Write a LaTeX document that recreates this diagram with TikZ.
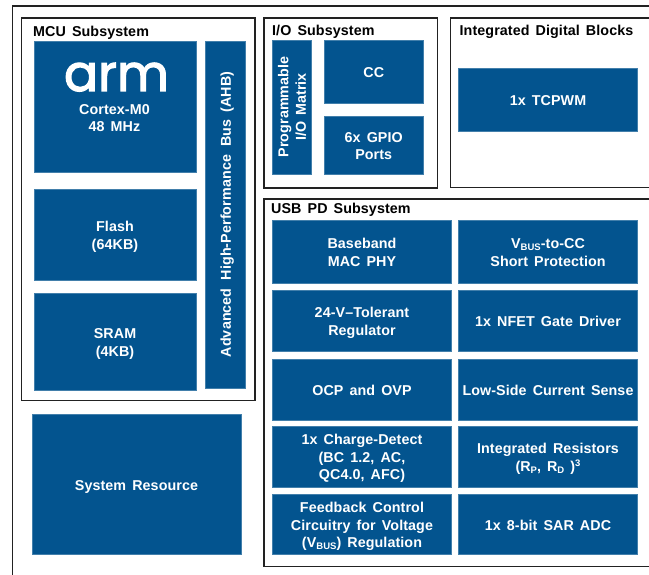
\documentclass[tikz,border=0pt]{standalone}
\usepackage{fontspec}
\setmainfont{Liberation Sans}[WordSpace=1.5,LetterSpace=0.6]
\newfontfamily\armfont{Poppins}[FakeBold=2.4]
\definecolor{blk}{HTML}{03548F}
\definecolor{frm}{HTML}{222222}
\newcommand{\lowtxt}[1]{\raisebox{-2pt}{\fontsize{9.5}{9.5}\selectfont #1}}
\newcommand{\hightxt}[1]{\raisebox{5pt}{\fontsize{9.5}{9.5}\selectfont #1}}
\newcommand{\nudged}[2][-2.4pt]{\raisebox{#1}[\height][\depth]{\begin{tabular}{@{}c@{}}#2\end{tabular}}}
\tikzset{
  x=1pt,y=-1pt,
  panel/.style={draw=frm,line width=1.8pt,fill=none},
  subhead/.style={anchor=west,inner sep=0pt,text=black,font=\fontsize{14.3}{17}\selectfont\bfseries},
  blockbox/.style={fill=blk,draw=blk!75!white,line width=0.4pt,inner sep=0pt,text=white,align=center,
    font=\fontsize{14.3}{17.5}\selectfont\bfseries},
}
\newcommand{\blockat}[6]{%
  \node[blockbox,minimum width={#4-#2},minimum height={#5-#3}] (#1) at ({(#2+#4)/2},{(#3+#5)/2}) {\nudged{#6}};}
\newcommand{\vblockat}[6]{%
  \node[blockbox,rotate=90,minimum width={#5-#3},minimum height={#4-#2}] (#1) at ({(#2+#4)/2},{(#3+#5)/2}) {#6};}
\begin{document}
\begin{tikzpicture}
\useasboundingbox (0,0) rectangle (649,575);
\fill[white] (0,0) rectangle (649,575);
\begin{scope}
\clip (0,0) rectangle (649,575);
\draw[panel,line width=1.5pt] (12.5,6) rectangle (670,600);
\draw[panel] (21.5,18) rectangle (255,400.5);
\draw[panel] (264,18) rectangle (437.5,188);
\draw[panel] (450.5,18) rectangle (670,187.5);
\draw[panel] (264,199) rectangle (670,566.5);
\end{scope}
\node[subhead] (mcuhead) at (33,32.5) {MCU Subsystem};
\node[subhead] (iohead) at (272,31.5) {I/O Subsystem};
\node[subhead] (idbhead) at (459.5,31.5) {Integrated Digital Blocks};
\node[subhead] (usbhead) at (271,209.5) {USB PD Subsystem};
\blockat{cortex}{34}{41}{196}{172}{}
\node[text=white,inner sep=0pt,font=\armfont\fontsize{50.5}{50.5}\selectfont] (armlogo) at (116.5,91) {\smash{arm}};
\node[text=white,align=center,inner sep=0pt,font=\fontsize{14.3}{17}\selectfont\bfseries] (cortextxt) at (114.5,118.5) {Cortex-M0\\48 MHz};
\blockat{flash}{34}{189}{196}{280}{Flash\\(64KB)}
\blockat{sram}{34}{293}{196}{390}{SRAM\\(4KB)}
\node[blockbox,rotate=90,minimum width=347,minimum height=40] (ahb) at (225,214.5) {\nudged{Advanced\hspace{2pt} High-Performance\hspace{2pt} Bus\hspace{1pt} (AHB)\hspace{8pt}}};
\blockat{sysres}{32}{414.5}{241}{554}{System Resource}
\vblockat{pio}{272.5}{40}{311.5}{174}{Programmable\\I/O Matrix}
\blockat{cc}{324.5}{40}{423}{103}{CC}
\blockat{gpio}{324.5}{116}{423}{174}{6x GPIO\\Ports}
\blockat{tcpwm}{458.5}{68}{637.5}{131}{1x TCPWM}
\blockat{baseband}{272.5}{220}{451.5}{283}{Baseband\\MAC PHY}
\blockat{shortp}{458.5}{220}{637.5}{283}{V\lowtxt{BUS}-to-CC\\Short Protection}
\blockat{regul}{272.5}{290}{451.5}{351}{24-V--Tolerant\\Regulator}
\blockat{nfet}{458.5}{290}{637.5}{351}{1x NFET Gate Driver}
\blockat{ocp}{272.5}{359}{451.5}{420}{OCP and OVP}
\blockat{lowside}{458.5}{359}{637.5}{420}{Low-Side Current Sense}
\blockat{charge}{272.5}{426}{451.5}{487}{1x Charge-Detect\\(BC 1.2, AC,\\QC4.0, AFC)}
\blockat{resist}{458.5}{426}{637.5}{487}{Integrated Resistors\\(R\lowtxt{P}, R\lowtxt{D} )\hightxt{3}}
\blockat{feedback}{272.5}{494.5}{451.5}{554.5}{Feedback Control\\Circuitry for Voltage\\(V\lowtxt{BUS}) Regulation}
\blockat{adc}{458.5}{494.5}{637.5}{554.5}{1x 8-bit SAR ADC}
\end{tikzpicture}
\end{document}
